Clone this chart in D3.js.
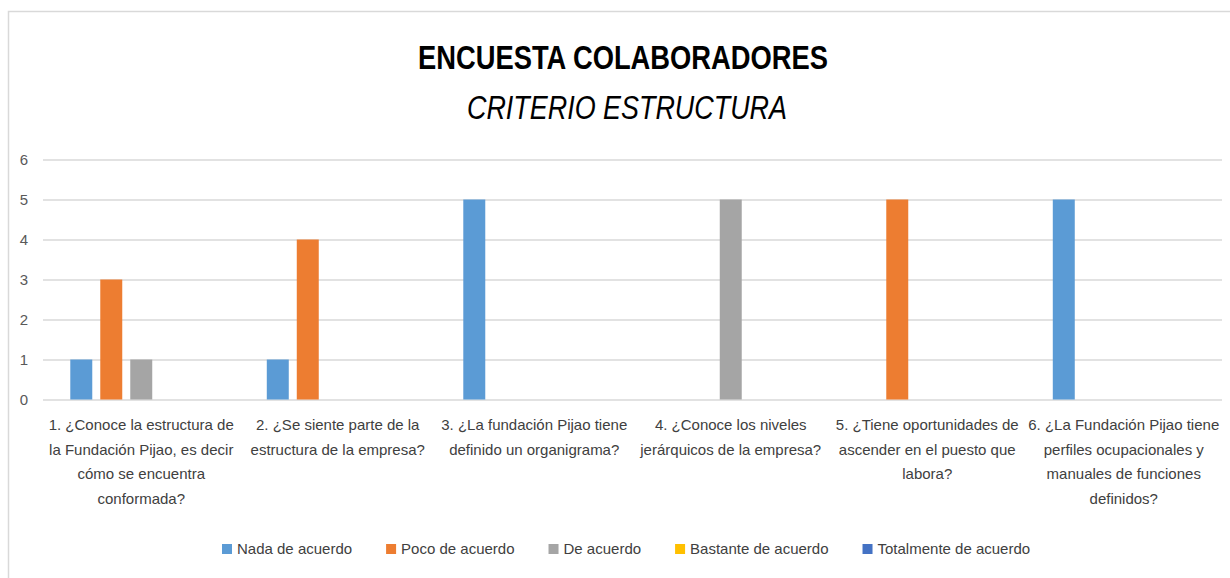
<!DOCTYPE html>
<html>
<head>
<meta charset="utf-8">
<script src="https://cdn.jsdelivr.net/npm/d3@7"></script>
<style>
  body { margin: 0; background: #fff; }
  svg text { font-family: "Liberation Sans Narrow", "Arial Narrow", "Liberation Sans", sans-serif; }
</style>
</head>
<body>
<div id="chart"></div>
<script>
// data
var categories = ["q1", "q2", "q3", "q4", "q5", "q6"];
var categoryLabels = [
    ["1. ¿Conoce la estructura de", "la Fundación Pijao, es decir", "cómo se encuentra", "conformada?"],
    ["2. ¿Se siente parte de la", "estructura de la empresa?"],
    ["3. ¿La fundación Pijao tiene", "definido un organigrama?"],
    ["4. ¿Conoce los niveles", "jerárquicos de la empresa?"],
    ["5. ¿Tiene oportunidades de", "ascender en el puesto que", "labora?"],
    ["6. ¿La Fundación Pijao tiene", "perfiles ocupacionales y", "manuales de funciones", "definidos?"]
];
var seriesNames = ["Nada de acuerdo", "Poco de acuerdo", "De acuerdo", "Bastante de acuerdo", "Totalmente de acuerdo"];
var nadaValues = [1, 1, 5, 0, 0, 5];
var pocoValues = [3, 4, 0, 0, 5, 0];
var deAcuerdoValues = [1, 0, 0, 5, 0, 0];
var bastanteValues = [0, 0, 0, 0, 0, 0];
var totalmenteValues = [0, 0, 0, 0, 0, 0];
var yTicks = [0, 1, 2, 3, 4, 5, 6];

var seriesValues = [nadaValues, pocoValues, deAcuerdoValues, bastanteValues, totalmenteValues];
var colors = ["#5B9BD5", "#ED7D31", "#A5A5A5", "#FFC000", "#4472C4"];

var width = 1230;
var height = 578;
var plotLeft = 43, plotRight = 1222, plotTop = 159.5, plotBottom = 399.5;

var svg = d3.select('#chart')
    .append('svg')
    .attr('width', width)
    .attr('height', height);

// chart border (cut by the picture on the right and bottom)
svg.append('rect')
    .attr('x', 8.5).attr('y', 11.5)
    .attr('width', 1240).attr('height', 600)
    .attr('fill', 'none')
    .attr('stroke', '#d9d9d9')
    .attr('stroke-width', 1.5);

svg.append('text')
    .attr('x', 623).attr('y', 69)
    .attr('text-anchor', 'middle')
    .attr('font-size', 33)
    .attr('font-weight', 'bold')
    .attr('fill', '#000')
    .attr('textLength', 410)
    .attr('lengthAdjust', 'spacingAndGlyphs')
    .text('ENCUESTA COLABORADORES');

svg.append('text')
    .attr('x', 627).attr('y', 119)
    .attr('text-anchor', 'middle')
    .attr('font-size', 34)
    .attr('font-style', 'italic')
    .attr('fill', '#000')
    .attr('textLength', 320)
    .attr('lengthAdjust', 'spacingAndGlyphs')
    .text('CRITERIO ESTRUCTURA');

var y = d3.scaleLinear().domain([0, 6]).range([plotBottom, plotTop]);

var x0 = d3.scaleBand()
    .domain(categories)
    .range([plotLeft, plotRight])
    .padding(0);

var x1 = d3.scaleBand()
    .domain(seriesNames)
    .range([0, x0.bandwidth()])
    .paddingInner(0.267)
    .paddingOuter(0.91);

// gridlines
var grid = svg.append('g')
    .attr('transform', 'translate(' + plotLeft + ',0)')
    .call(d3.axisLeft(y).tickValues(yTicks).tickSize(-(plotRight - plotLeft)).tickFormat(''));
grid.select('.domain').remove();
grid.selectAll('line').attr('stroke', '#d9d9d9').attr('stroke-width', 1.5);

// y labels
var yAxis = svg.append('g')
    .attr('transform', 'translate(30,0)')
    .call(d3.axisLeft(y).tickValues(yTicks).tickSize(0).tickPadding(0).tickFormat(d3.format('d')));
yAxis.select('.domain').remove();
yAxis.selectAll('text')
    .attr('font-size', 15)
    .attr('fill', '#595959')
    .attr('text-anchor', 'middle')
    .attr('dx', -6)
    .style('font-family', '"Liberation Sans Narrow", "Liberation Sans", sans-serif');

// bars
var bars = [];
seriesNames.forEach(function (s, si) {
    categories.forEach(function (c, ci) {
        bars.push({series: s, cat: c, value: seriesValues[si][ci], color: colors[si]});
    });
});

svg.append('g').selectAll('rect')
    .data(bars.filter(function (d) {return d.value > 0;}))
    .enter()
    .append('rect')
    .attr('x', function (d) {return x0(d.cat) + x1(d.series);})
    .attr('y', function (d) {return y(d.value);})
    .attr('width', x1.bandwidth())
    .attr('height', function (d) {return y(0) - y(d.value);})
    .attr('fill', function (d) {return d.color;});

// category labels
var xLabels = svg.append('g').selectAll('text')
    .data(categories)
    .enter()
    .append('text')
    .attr('x', function (d) {return x0(d) + x0.bandwidth() / 2;})
    .attr('y', 430)
    .attr('text-anchor', 'middle')
    .attr('font-size', 15)
    .attr('fill', '#404040');

xLabels.selectAll('tspan')
    .data(function (d, i) {return categoryLabels[i];})
    .enter()
    .append('tspan')
    .attr('x', function () {return d3.select(this.parentNode).attr('x');})
    .attr('dy', function (d, i) {return i === 0 ? 0 : 24.5;})
    .text(function (d) {return d;});

// legend
var legend = svg.append('g').attr('class', 'legend');
var legendItems = legend.selectAll('g')
    .data(seriesNames)
    .enter()
    .append('g');

legendItems.append('rect')
    .attr('width', 10)
    .attr('height', 10)
    .attr('y', -10)
    .attr('fill', function (d, i) {return colors[i];});

legendItems.append('text')
    .attr('x', 15)
    .attr('y', 0)
    .attr('font-size', 15)
    .attr('fill', '#404040')
    .text(function (d) {return d;});

var lx = 222;
legendItems.each(function () {
    var g = d3.select(this);
    g.attr('transform', 'translate(' + lx + ',554)');
    lx += 15 + g.select('text').node().getComputedTextLength() + 34;
});
</script>
</body>
</html>
